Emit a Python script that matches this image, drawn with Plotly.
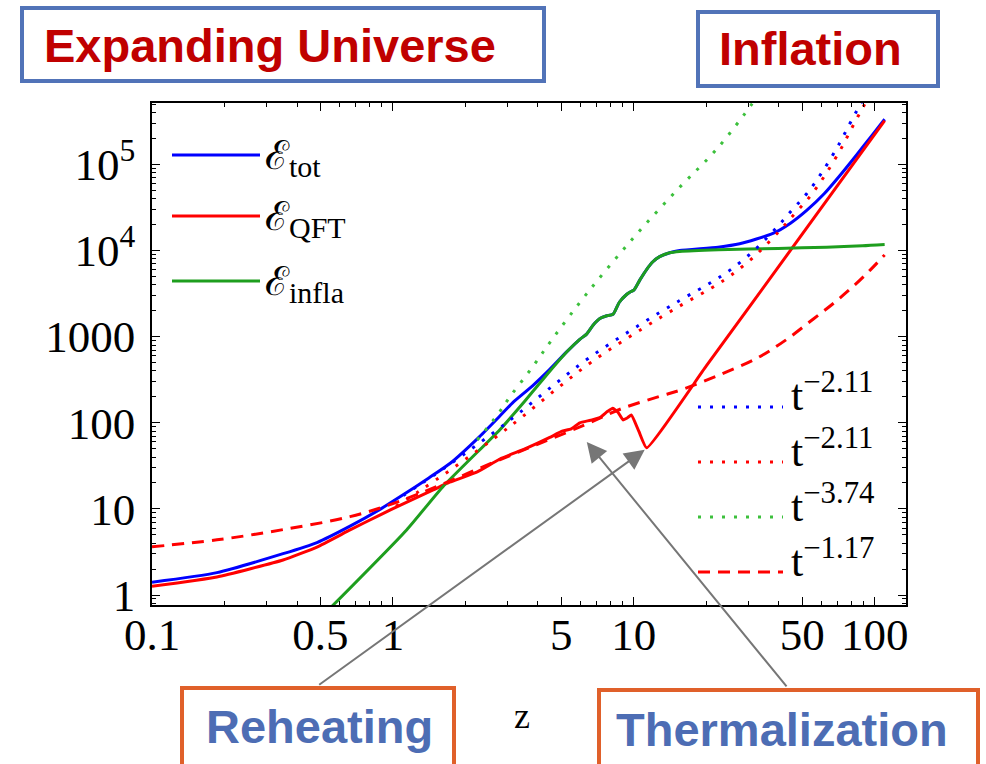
import numpy as np
import plotly.graph_objects as go

# ---------------- data ----------------
z_tot = [0.1, 0.186, 0.35, 0.484, 0.664, 0.891, 1.07, 1.41, 1.73, 2.29, 2.78, 3.16, 3.80, 4.48,
         5.25, 5.97, 6.37, 6.76, 7.23, 7.67, 8.20, 8.71, 9.33, 9.66, 10.0, 10.6, 11.3, 12.0, 12.8,
         14.1, 15.5, 22.4, 27.5, 37.8, 44.7, 52.2, 61.7, 71.6, 84.1, 98.2, 110]
e_tot = [1.41, 1.82, 3.02, 4.07, 6.31, 10.0, 13.8, 22.9, 33.9, 69.2, 120, 174, 269, 417,
         661, 933, 1072, 1349, 1622, 1738, 1820, 2512, 3090, 3311, 3467, 4571, 6026, 7413, 8511,
         9441, 10000, 10960, 12000, 15800, 20800, 29300, 45700, 74100, 129000, 224000, 335000]

z_qft = [0.1, 0.186, 0.35, 0.484, 0.664, 0.891, 1.07, 1.47, 1.72, 2.24, 2.78, 3.55, 4.48, 5.01,
         5.50, 5.97, 6.61, 7.23, 7.76, 8.18, 8.61, 9.02, 9.44, 9.77, 10.5, 11.3, 20.0, 45.7, 110]
e_qft = [1.26, 1.62, 2.55, 3.61, 5.70, 8.60, 11.0, 16.6, 20.4, 26.9, 38.0, 50.1, 67.6, 79.4,
         85.1, 100, 107, 115, 135, 148, 132, 108, 115, 123, 79.4, 51.3, 457, 10960, 323600]

z_infla = [0.55, 1.14, 1.61, 2.78, 3.24, 3.80, 4.48, 5.25, 5.97, 6.37, 6.76, 7.23, 7.67, 8.20,
           8.71, 9.33, 9.66, 10.0, 10.6, 11.3, 12.0, 12.8, 14.1, 15.5, 22.4, 39.8, 63.1, 89.1, 110]
e_infla = [0.708, 5.70, 18.0, 83.2, 135, 229, 398, 661, 933, 1072, 1349, 1622, 1738, 1820,
           2512, 3090, 3311, 3467, 4571, 6026, 7413, 8511, 9441, 9772, 10230, 10590, 10960, 11350, 11750]

z_fit_tot = [1.0, 1.259, 1.726, 2.60, 3.365, 4.61, 6.56, 10.6, 15.5, 20.65, 25.0, 31.8, 39.8,
             45.7, 52.2, 60.8, 71.6, 78.7, 84.9, 91.2]
e_fit_tot = [12.0, 18.2, 33.1, 75.9, 132, 269, 575, 1380, 2630, 4170, 5890, 10230, 19500,
             30200, 45700, 83200, 178000, 295000, 437000, 631000]

z_fit_qft_dot = [1.03, 1.29, 1.77, 2.66, 3.44, 4.71, 6.70, 10.8, 15.8, 21.1, 25.5, 32.4, 40.6,
                 46.6, 53.2, 62.0, 73.0, 80.2, 86.5, 93.0]
e_fit_qft_dot = [10.7, 16.2, 29.5, 67.5, 117, 239, 512, 1230, 2340, 3710, 5240, 9100, 17400,
                 26900, 40700, 74000, 158000, 263000, 389000, 562000]

z_fit_infla = [2.24, 2.73, 3.06, 3.78, 4.61, 6.38, 9.91, 15.2, 22.1, 30.9, 33.1]
e_fit_infla = [63.1, 126, 200, 437, 955, 3160, 13800, 51300, 151000, 501000, 661000]

z_fit_qft = [0.1, 0.186, 0.35, 0.664, 1.0, 1.585, 2.512, 3.98, 6.31, 9.02, 12.6, 15.96, 22.4,
             32.4, 42.7, 55.3, 67.6, 81.1, 95.5, 110]
e_fit_qft = [3.63, 4.37, 5.75, 8.13, 11.5, 19.1, 33.1, 56.2, 95.5, 148, 200, 245, 355,
             562, 912, 1585, 2455, 3800, 5890, 8910]

x_tickvals = [0.1, 0.5, 1, 5, 10, 50, 100]
x_ticktext = ["0.1", "0.5", "1", "5", "10", "50", "100"]
x_minor = [0.2, 0.3, 0.4, 0.6, 0.7, 0.8, 0.9, 2, 3, 4, 6, 7, 8, 9, 20, 30, 40, 60, 70, 80, 90]
y_tickvals = [1, 10, 100, 1000, 1e4, 1e5]
y_ticktext = ["1", "10", "100", "1000", "10<sup>4</sup>", "10<sup>5</sup>"]
y_minor = [0.8, 0.9] + [m * 10 ** k for k in range(0, 6) for m in range(2, 10)]

legend_main = ["ℰ<sub><span style='font-size:30px'>tot</span></sub>",
               "ℰ<sub><span style='font-size:30px'>QFT</span></sub>",
               "ℰ<sub><span style='font-size:30px'>infla</span></sub>"]
legend_fit = ["t<sup>−2.11</sup>", "t<sup>−2.11</sup>", "t<sup>−3.74</sup>", "t<sup>−1.17</sup>"]

BLUE = "#0000ff"
RED = "#ff0000"
GREEN = "#1e9e1e"
GREEN_DOT = "#3cc03c"
SERIF = "Liberation Serif, DejaVu Serif, serif"
SANS = "Liberation Sans, Arial, sans-serif"

# ---------------- figure ----------------
fig = go.Figure()
W = 3
fig.add_trace(go.Scatter(x=z_tot, y=e_tot, mode="lines", line=dict(color=BLUE, width=W, shape="spline", smoothing=0.6)))
fig.add_trace(go.Scatter(x=z_qft, y=e_qft, mode="lines", line=dict(color=RED, width=W, shape="spline", smoothing=0.4)))
fig.add_trace(go.Scatter(x=z_infla, y=e_infla, mode="lines", line=dict(color=GREEN, width=W, shape="spline", smoothing=0.6)))
fig.add_trace(go.Scatter(x=z_fit_tot, y=e_fit_tot, mode="lines", line=dict(color=BLUE, width=3, dash="3px,9px", shape="spline")))
fig.add_trace(go.Scatter(x=z_fit_qft_dot, y=e_fit_qft_dot, mode="lines", line=dict(color=RED, width=3, dash="3px,9px", shape="spline")))
fig.add_trace(go.Scatter(x=z_fit_infla, y=e_fit_infla, mode="lines", line=dict(color=GREEN_DOT, width=3, dash="3px,9px", shape="spline")))
fig.add_trace(go.Scatter(x=z_fit_qft, y=e_fit_qft, mode="lines", line=dict(color=RED, width=W, dash="12px,8px", shape="spline")))

L, R, T, B = 152, 80, 103, 159
PW, PH = 986 - L - R, 764 - T - B
def px(x):
    return (x - L) / PW
def py(y):
    return (764 - B - y) / PH

shapes = []
annotations = []

# legend (top-left)
leg_cols = [BLUE, RED, GREEN]
leg_y = [155, 216, 281]
for txt, c, yy in zip(legend_main, leg_cols, leg_y):
    shapes.append(dict(type="line", xref="paper", yref="paper", x0=px(172), x1=px(260), y0=py(yy), y1=py(yy),
                       line=dict(color=c, width=W)))
    annotations.append(dict(xref="paper", yref="paper", x=px(263), y=py(yy + 3), xanchor="left", yanchor="middle",
                            text=txt, showarrow=False, font=dict(family=SERIF, size=40, color="black")))

# legend (bottom-right)
fit_cols = [BLUE, RED, GREEN_DOT, RED]
fit_dash = ["3px,9px", "3px,9px", "3px,9px", "12px,8px"]
fit_y = [407, 462, 517, 572]
for txt, c, d, yy in zip(legend_fit, fit_cols, fit_dash, fit_y):
    shapes.append(dict(type="line", xref="paper", yref="paper", x0=px(698), x1=px(783), y0=py(yy), y1=py(yy),
                       line=dict(color=c, width=3, dash=d)))
    annotations.append(dict(xref="paper", yref="paper", x=px(789), y=py(yy - 14), xanchor="left", yanchor="middle",
                            text=txt, showarrow=False, font=dict(family=SERIF, size=44, color="black")))

# boxes
BOXBLUE = "#5173b8"
BOXORANGE = "#e0602a"
boxes = [(22, 8, 544, 81, BOXBLUE), (698, 12, 938, 86, BOXBLUE),
         (182, 688, 454, 790, BOXORANGE), (599, 690, 978, 790, BOXORANGE)]
for x0, y0, x1, y1, c in boxes:
    shapes.append(dict(type="rect", xref="paper", yref="paper", x0=px(x0), x1=px(x1), y0=py(y1), y1=py(y0),
                       line=dict(color=c, width=4), fillcolor="rgba(0,0,0,0)", layer="above"))

labels = [("Expanding Universe", 42, 45, "#c00000"), ("Inflation", 717, 48, "#c00000"),
          ("Reheating", 204, 726, "#4d6db4"), ("Thermalization", 614, 729, "#4d6db4")]
for txt, x0, yc, c in labels:
    annotations.append(dict(xref="paper", yref="paper", x=px(x0), y=py(yc), xanchor="left", yanchor="middle",
                            text="<b>" + txt + "</b>", showarrow=False,
                            font=dict(family=SANS, size=47, color=c)))

# axis label
annotations.append(dict(xref="paper", yref="paper", x=px(522), y=py(716), xanchor="center", yanchor="middle",
                        text="z", showarrow=False, font=dict(family=SERIF, size=36, color="black")))

# arrows
ARROW = "#767676"
annotations.append(dict(xref="x", yref="y", x=np.log10(11.1), y=np.log10(48.5), ax=318 - 645, ay=686 - 450,
                        axref="pixel", ayref="pixel", text="", showarrow=True, arrowhead=2, arrowsize=2,
                        arrowwidth=2, arrowcolor=ARROW))
annotations.append(dict(xref="x", yref="y", x=np.log10(6.38), y=np.log10(60), ax=788 - 587, ay=688 - 442,
                        axref="pixel", ayref="pixel", text="", showarrow=True, arrowhead=2, arrowsize=2,
                        arrowwidth=2, arrowcolor=ARROW))

axis_common = dict(showgrid=False, zeroline=False, showline=True, linecolor="black", linewidth=1.6,
                   ticks="inside", mirror="allticks", ticklen=8, tickwidth=1.4, tickcolor="black",
                   tickfont=dict(family=SERIF, size=45, color="black"))
fig.update_xaxes(type="log", range=[-1, 2.13], tickmode="array", tickvals=x_tickvals, ticktext=x_ticktext,
                 minor=dict(tickmode="array", tickvals=x_minor, ticks="inside", ticklen=4, tickwidth=1.2, tickcolor="black"),
                 ticklabelstandoff=-11, **axis_common)
fig.update_yaxes(type="log", range=[-0.116, 5.714], tickmode="array", tickvals=y_tickvals, ticktext=y_ticktext,
                 minor=dict(tickmode="array", tickvals=y_minor, ticks="inside", ticklen=4, tickwidth=1.2, tickcolor="black"),
                 ticklabelstandoff=6, **axis_common)

fig.update_layout(width=986, height=764, margin=dict(l=L, r=R, t=T, b=B, autoexpand=False),
                  paper_bgcolor="white", plot_bgcolor="white", showlegend=False,
                  shapes=shapes, annotations=annotations)

fig.write_html("out.html")
